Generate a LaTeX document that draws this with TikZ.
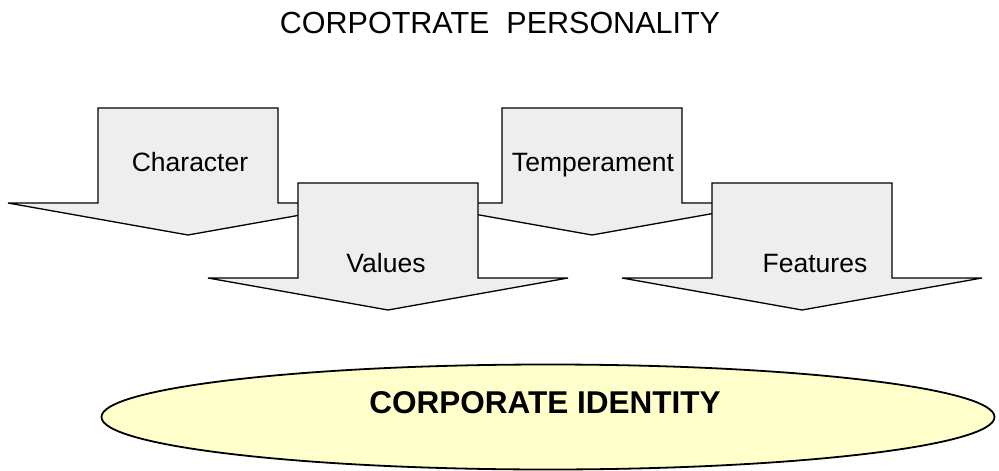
\documentclass[tikz,border=0pt]{standalone}
\usepackage{fontspec}
\setmainfont{Liberation Sans}
\usetikzlibrary{shapes.geometric}
\definecolor{arrowgray}{HTML}{EEEEEE}
\definecolor{identityyellow}{HTML}{FFFFCC}

\begin{document}
\begin{tikzpicture}[x=1pt,y=-1pt]
\tikzstyle{shaft}=[draw,fill=arrowgray,line width=1.3pt,line join=miter]
\tikzstyle{word}=[anchor=base,inner sep=0pt,font=\fontsize{26.5}{30}\selectfont]
\useasboundingbox (0,0) rectangle (999,471);
\node [word,font=\fontsize{30.5}{36}\selectfont] (title) at (500,33) {CORPOTRATE\ \ PERSONALITY};
\foreach \x/\y/\tx/\ty/\name/\txt in {98/108/190/171/character/Character, 502/108/593/171/temperament/Temperament, 298/183/386/272/values/Values, 712/183/815/272/features/Features}
{
\draw [shaft] (\x,\y) -- ++(180,0) -- ++(0,95) -- ++(90,0) -- ++(-180,32) -- ++(-180,-32) -- ++(90,0) -- cycle;
\node [word] (\name) at (\tx,\ty) {\txt};
}
\node [ellipse,draw,fill=identityyellow,line width=1.8pt,minimum width=893,minimum height=105,inner sep=0pt] (identity) at (548,417) {};
\node [word,font=\bfseries\fontsize{31.5}{36}\selectfont] (identitytext) at (545,413) {CORPORATE IDENTITY};
\end{tikzpicture}
\end{document}
